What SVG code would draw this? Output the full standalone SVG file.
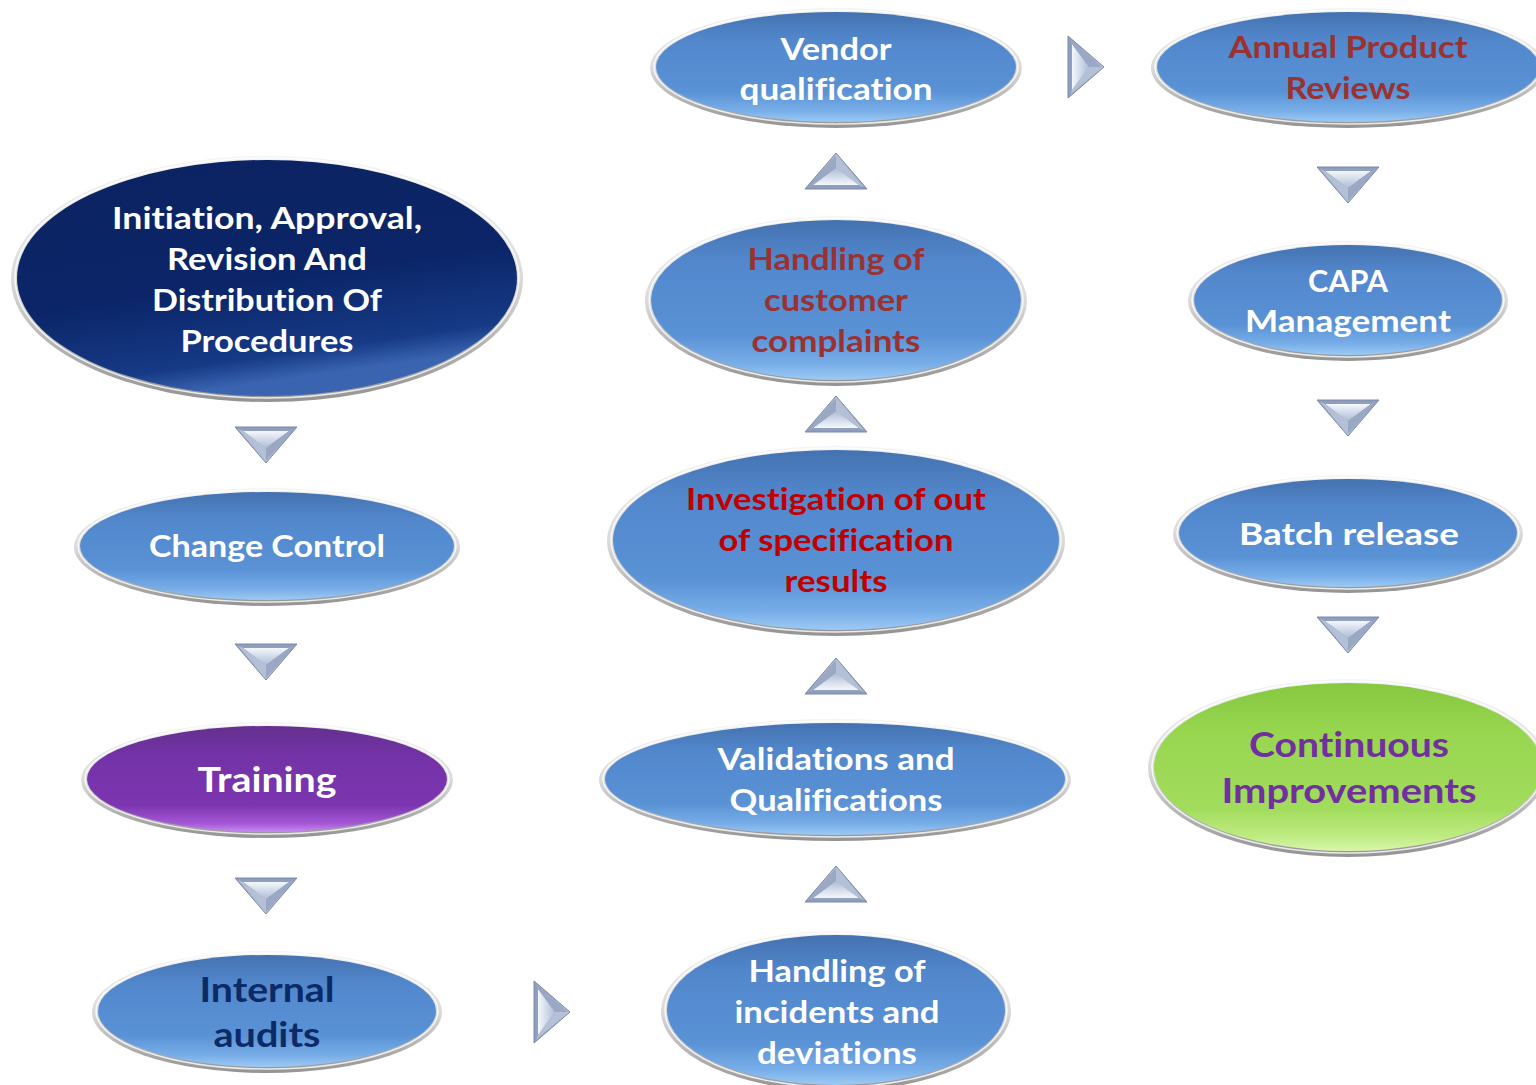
<svg xmlns="http://www.w3.org/2000/svg" xmlns:xlink="http://www.w3.org/1999/xlink" width="1536" height="1085" viewBox="0 0 1536 1085">
<defs>
<linearGradient id="gBlue" x1="0" y1="0" x2="0" y2="1">
<stop offset="0" stop-color="#4472b0"/><stop offset="0.25" stop-color="#5287cc"/><stop offset="0.72" stop-color="#5a92d6"/><stop offset="0.9" stop-color="#78aee8"/><stop offset="1" stop-color="#9ccaf4"/>
</linearGradient>
<linearGradient id="gNavy" x1="0" y1="0" x2="0.3" y2="1">
<stop offset="0" stop-color="#0b2360"/><stop offset="0.6" stop-color="#0b2568"/><stop offset="0.9" stop-color="#163a86"/><stop offset="1" stop-color="#3a64b0"/>
</linearGradient>
<linearGradient id="gPurple" x1="0" y1="0" x2="0" y2="1">
<stop offset="0" stop-color="#64308e"/><stop offset="0.3" stop-color="#7432a8"/><stop offset="0.75" stop-color="#7c36b0"/><stop offset="0.92" stop-color="#a557d6"/><stop offset="1" stop-color="#c98af0"/>
</linearGradient>
<linearGradient id="gGreen" x1="0" y1="0" x2="0" y2="1">
<stop offset="0" stop-color="#86c840"/><stop offset="0.3" stop-color="#98d650"/><stop offset="0.75" stop-color="#a2dc5c"/><stop offset="0.92" stop-color="#c0ec84"/><stop offset="1" stop-color="#daf6ac"/>
</linearGradient>
<linearGradient id="gRim" x1="0" y1="0" x2="0" y2="1">
<stop offset="0" stop-color="#f4f4f4"/><stop offset="0.5" stop-color="#dadada"/><stop offset="1" stop-color="#939393"/>
</linearGradient>
<linearGradient id="gTriOut" x1="0" y1="0" x2="0" y2="1">
<stop offset="0" stop-color="#8d9cbc"/><stop offset="1" stop-color="#b9c5da"/>
</linearGradient>
<linearGradient id="gTriIn" x1="0" y1="0" x2="0" y2="1">
<stop offset="0" stop-color="#f4f8fd"/><stop offset="1" stop-color="#aebcd6"/>
</linearGradient>
<g id="tri">
<polygon points="-31,-18 31,-18 0,18" fill="url(#gTriOut)" stroke="#7c8aa8" stroke-width="1"/>
<polygon points="-23,-14 23,-14 0,3" fill="url(#gTriIn)"/>
<polygon points="0,3 23,-14 28,-16 0,16" fill="#9aa8c4"/>
<polygon points="0,3 -23,-14 -28,-16 0,16" fill="#b4c0d6"/>
</g>
<style>
.rim{fill:url(#gRim);}
.hl{fill:none;stroke:#ffffff;stroke-width:1.5;opacity:0.8;}
.blue{fill:url(#gBlue);}
.t{font-family:Lato,"Open Sans","Liberation Sans",sans-serif;font-weight:700;font-size:30px;text-anchor:middle;font-variant-ligatures:none;font-feature-settings:"liga" 0,"dlig" 0;}
.big{font-size:35px;}
.w{fill:#ffffff;}
.red{fill:#c00000;}
.brown{fill:#9b3232;}
.navy{fill:#0c2a66;}
.purp{fill:#7030a0;}
</style>
</defs>
<rect width="1536" height="1085" fill="#ffffff"/>

<g id="connectors">
<use xlink:href="#tri" transform="translate(266,445)"/>
<use xlink:href="#tri" transform="translate(266,662)"/>
<use xlink:href="#tri" transform="translate(266,896)"/>
<use xlink:href="#tri" transform="translate(552,1012) rotate(-90)"/>
<use xlink:href="#tri" transform="translate(836,884) rotate(180)"/>
<use xlink:href="#tri" transform="translate(836,676) rotate(180)"/>
<use xlink:href="#tri" transform="translate(836,414) rotate(180)"/>
<use xlink:href="#tri" transform="translate(836,171) rotate(180)"/>
<use xlink:href="#tri" transform="translate(1086,67) rotate(-90)"/>
<use xlink:href="#tri" transform="translate(1348,185)"/>
<use xlink:href="#tri" transform="translate(1348,418)"/>
<use xlink:href="#tri" transform="translate(1348,635)"/>
</g>

<g id="node-initiation">
<ellipse class="rim" cx="267" cy="279" rx="256" ry="123"/>
<ellipse cx="267" cy="278" rx="250" ry="118" fill="url(#gNavy)"/>
<ellipse class="hl" cx="267" cy="278" rx="252" ry="120"/>
<text class="t w" x="267" y="229" textLength="310" lengthAdjust="spacingAndGlyphs">Initiation, Approval,</text>
<text class="t w" x="267" y="270" textLength="200" lengthAdjust="spacingAndGlyphs">Revision And</text>
<text class="t w" x="267" y="311" textLength="230" lengthAdjust="spacingAndGlyphs">Distribution Of</text>
<text class="t w" x="267" y="352" textLength="173" lengthAdjust="spacingAndGlyphs">Procedures</text>
</g>

<g id="node-change-control">
<ellipse class="rim" cx="267" cy="547" rx="193" ry="59"/>
<ellipse class="blue" cx="267" cy="546" rx="187" ry="54"/>
<ellipse class="hl" cx="267" cy="546" rx="189" ry="56"/>
<text class="t w" x="267" y="557" textLength="236" lengthAdjust="spacingAndGlyphs">Change Control</text>
</g>

<g id="node-training">
<ellipse class="rim" cx="267" cy="780" rx="186" ry="58"/>
<ellipse cx="267" cy="779" rx="180" ry="53" fill="url(#gPurple)"/>
<ellipse class="hl" cx="267" cy="779" rx="182" ry="55"/>
<text class="t big w" x="267" y="792" textLength="139" lengthAdjust="spacingAndGlyphs">Training</text>
</g>

<g id="node-internal-audits">
<ellipse class="rim" cx="267" cy="1012" rx="175" ry="61"/>
<ellipse class="blue" cx="267" cy="1011" rx="169" ry="56"/>
<ellipse class="hl" cx="267" cy="1011" rx="171" ry="58"/>
<text class="t big navy" x="267" y="1002" textLength="135" lengthAdjust="spacingAndGlyphs">Internal</text>
<text class="t big navy" x="267" y="1047" textLength="107" lengthAdjust="spacingAndGlyphs">audits</text>
</g>

<g id="node-vendor">
<ellipse class="rim" cx="836" cy="68" rx="186" ry="60"/>
<ellipse class="blue" cx="836" cy="67" rx="180" ry="55"/>
<ellipse class="hl" cx="836" cy="67" rx="182" ry="57"/>
<text class="t w" x="836" y="60" textLength="111" lengthAdjust="spacingAndGlyphs">Vendor</text>
<text class="t w" x="836" y="100" textLength="193" lengthAdjust="spacingAndGlyphs">qualification</text>
</g>

<g id="node-complaints">
<ellipse class="rim" cx="836" cy="301" rx="191" ry="85"/>
<ellipse class="blue" cx="836" cy="300" rx="185" ry="80"/>
<ellipse class="hl" cx="836" cy="300" rx="187" ry="82"/>
<text class="t brown" x="836" y="270" textLength="177" lengthAdjust="spacingAndGlyphs">Handling of</text>
<text class="t brown" x="836" y="311" textLength="144" lengthAdjust="spacingAndGlyphs">customer</text>
<text class="t brown" x="836" y="352" textLength="169" lengthAdjust="spacingAndGlyphs">complaints</text>
</g>

<g id="node-oos">
<ellipse class="rim" cx="836" cy="541" rx="229" ry="95"/>
<ellipse class="blue" cx="836" cy="540" rx="223" ry="90"/>
<ellipse class="hl" cx="836" cy="540" rx="225" ry="92"/>
<text class="t red" x="836" y="510" textLength="300" lengthAdjust="spacingAndGlyphs">Investigation of out</text>
<text class="t red" x="836" y="551" textLength="235" lengthAdjust="spacingAndGlyphs">of specification</text>
<text class="t red" x="836" y="592" textLength="103" lengthAdjust="spacingAndGlyphs">results</text>
</g>

<g id="node-validations">
<ellipse class="rim" cx="835" cy="780" rx="236" ry="61"/>
<ellipse class="blue" cx="835" cy="779" rx="230" ry="56"/>
<ellipse class="hl" cx="835" cy="779" rx="232" ry="58"/>
<text class="t w" x="836" y="770" textLength="237" lengthAdjust="spacingAndGlyphs">Validations and</text>
<text class="t w" x="836" y="811" textLength="213" lengthAdjust="spacingAndGlyphs">Qualifications</text>
</g>

<g id="node-incidents">
<ellipse class="rim" cx="836" cy="1011" rx="175" ry="80"/>
<ellipse class="blue" cx="836" cy="1010" rx="169" ry="75"/>
<ellipse class="hl" cx="836" cy="1010" rx="171" ry="77"/>
<text class="t w" x="837" y="982" textLength="177" lengthAdjust="spacingAndGlyphs">Handling of</text>
<text class="t w" x="837" y="1023" textLength="205" lengthAdjust="spacingAndGlyphs">incidents and</text>
<text class="t w" x="837" y="1064" textLength="160" lengthAdjust="spacingAndGlyphs">deviations</text>
</g>

<g id="node-apr">
<ellipse class="rim" cx="1348" cy="68" rx="197" ry="60"/>
<ellipse class="blue" cx="1348" cy="67" rx="191" ry="55"/>
<ellipse class="hl" cx="1348" cy="67" rx="193" ry="57"/>
<text class="t brown" x="1348" y="58" textLength="239" lengthAdjust="spacingAndGlyphs">Annual Product</text>
<text class="t brown" x="1348" y="99" textLength="125" lengthAdjust="spacingAndGlyphs">Reviews</text>
</g>

<g id="node-capa">
<ellipse class="rim" cx="1348" cy="301" rx="160" ry="60"/>
<ellipse class="blue" cx="1348" cy="300" rx="154" ry="55"/>
<ellipse class="hl" cx="1348" cy="300" rx="156" ry="57"/>
<text class="t w" x="1348" y="292" textLength="80" lengthAdjust="spacingAndGlyphs">CAPA</text>
<text class="t w" x="1348" y="332" textLength="206" lengthAdjust="spacingAndGlyphs">Management</text>
</g>

<g id="node-batch">
<ellipse class="rim" cx="1348" cy="534" rx="175" ry="59"/>
<ellipse class="blue" cx="1348" cy="533" rx="169" ry="54"/>
<ellipse class="hl" cx="1348" cy="533" rx="171" ry="56"/>
<text class="t w" x="1349" y="545" textLength="220" lengthAdjust="spacingAndGlyphs">Batch release</text>
</g>

<g id="node-continuous">
<ellipse class="rim" cx="1348" cy="768" rx="200" ry="89"/>
<ellipse cx="1348" cy="767" rx="194" ry="84" fill="url(#gGreen)"/>
<ellipse class="hl" cx="1348" cy="767" rx="196" ry="86"/>
<text class="t big purp" x="1349" y="757" textLength="200" lengthAdjust="spacingAndGlyphs">Continuous</text>
<text class="t big purp" x="1349" y="803" textLength="255" lengthAdjust="spacingAndGlyphs">Improvements</text>
</g>
</svg>
